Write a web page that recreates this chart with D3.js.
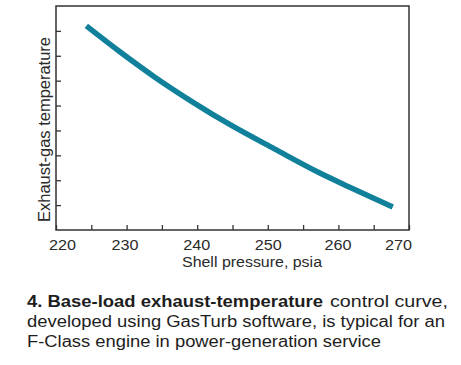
<!DOCTYPE html>
<html>
<head>
<meta charset="utf-8">
<script src="https://cdn.jsdelivr.net/npm/d3@7"></script>
<style>
  body { margin: 0; background: #fff; }
  svg { font-family: "Liberation Sans", Arial, sans-serif; }
</style>
</head>
<body>
<div id="chart"></div>
<script>
// values (y has no units in the original, 0-9 scale)
const pressure = [224.3, 229, 234, 239.7, 244.6, 251, 257.3, 261.6, 267.7];
const temperature = [8.2, 7.17, 6.14, 5.08, 4.24, 3.25, 2.3, 1.72, 0.92];
const xTicks = [220, 225, 230, 235, 240, 245, 250, 255, 260, 265, 270];
const yTicks = [1, 2, 3, 4, 5, 6, 7, 8];
const xLabel = "Shell pressure, psia";
const yLabel = "Exhaust-gas temperature";

const width = 461;
const height = 365;
const margin = { top: 6, right: 52, bottom: 135, left: 56 };
const innerW = width - margin.left - margin.right;
const innerH = height - margin.top - margin.bottom;

const svg = d3.select("#chart")
  .append("svg")
  .attr("width", width)
  .attr("height", height);

const g = svg.append("g")
  .attr("transform", `translate(${margin.left},${margin.top})`);

const x = d3.scaleLinear().domain([220, 270]).range([0, innerW]);
const y = d3.scaleLinear().domain([0, 9]).range([innerH, 0]);

// label nudges so they sit like the original
const labelShift = { 220: 6, 230: -2, 240: -1, 250: 0, 260: -1, 270: -11 };

// ticks point inward
const xAxis = g.append("g")
  .attr("transform", `translate(0,${innerH})`)
  .call(d3.axisBottom(x).tickValues(xTicks).tickSize(-5).tickPadding(10)
    .tickFormat(d => d % 10 === 0 ? d : ""));
xAxis.select(".domain").remove();
xAxis.selectAll("text")
  .filter(d => d % 10 === 0)
  .style("font-size", "14px")
  .attr("fill", "#2a2a2a")
  .attr("dx", d => labelShift[d])
  .attr("textLength", 27)
  .attr("lengthAdjust", "spacingAndGlyphs");

const yAxis = g.append("g")
  .call(d3.axisLeft(y).tickValues(yTicks).tickSize(-5).tickFormat(""));
yAxis.select(".domain").remove();

g.selectAll(".tick line").attr("stroke", "#333").attr("stroke-width", 1.3);

// frame
g.append("rect")
  .attr("width", innerW)
  .attr("height", innerH)
  .attr("fill", "none")
  .attr("stroke", "#333")
  .attr("stroke-width", 1.5);

const line = d3.line()
  .x((d, i) => x(pressure[i]))
  .y((d, i) => y(temperature[i]))
  .curve(d3.curveMonotoneX);

g.append("path")
  .datum(pressure)
  .attr("d", line)
  .attr("fill", "none")
  .attr("stroke", "#11809a")
  .attr("stroke-width", 5.5);

svg.append("text")
  .attr("x", 182)
  .attr("y", 266.5)
  .style("font-size", "14px")
  .attr("fill", "#2a2a2a")
  .attr("textLength", 140)
  .attr("lengthAdjust", "spacingAndGlyphs")
  .text(xLabel);

svg.append("text")
  .attr("transform", "translate(50,222) rotate(-90)")
  .style("font-size", "16px")
  .attr("fill", "#2a2a2a")
  .attr("textLength", 185)
  .attr("lengthAdjust", "spacingAndGlyphs")
  .text(yLabel);

// caption, widths matched to the original lines
const captionLines = [
  { text: "4. Base-load exhaust-temperature", x: 27, y: 306.5, len: 296, bold: true },
  { text: "control curve,", x: 330, y: 306.5, len: 118, bold: false },
  { text: "developed using GasTurb software, is typical for an", x: 27, y: 326.5, len: 418, bold: false },
  { text: "F-Class engine in power-generation service", x: 27, y: 346.5, len: 354, bold: false }
];

svg.selectAll(".caption")
  .data(captionLines)
  .enter()
  .append("text")
  .attr("class", "caption")
  .attr("x", d => d.x)
  .attr("y", d => d.y)
  .attr("textLength", d => d.len)
  .attr("lengthAdjust", "spacingAndGlyphs")
  .attr("font-weight", d => d.bold ? "bold" : "normal")
  .style("font-size", "16px")
  .attr("fill", "#1e1e1e")
  .text(d => d.text);
</script>
</body>
</html>
